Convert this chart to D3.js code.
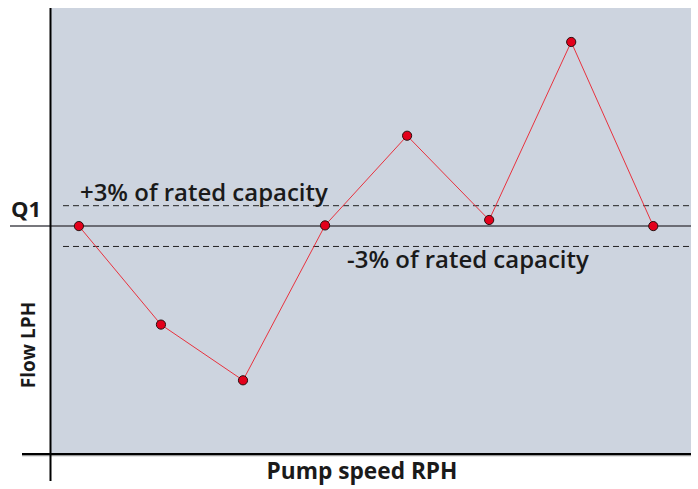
<!DOCTYPE html>
<html><head><meta charset="utf-8">
<script src="https://cdn.jsdelivr.net/npm/d3@7"></script>
<style>body{margin:0;background:#fff;} text{font-family:"Open Sans", Lato, sans-serif;}</style>
</head><body>
<svg id="c" width="698" height="489"></svg>
<script>
// Data
const speeds = [1, 2, 3, 4, 5, 6, 7, 8];
const flows = [100, 85.5, 77.3, 100.1, 113.3, 100.9, 127.1, 100];
const q1 = 100;
const bandPct = [3, -3];
const bandLabels = ["+3% of rated capacity", "-3% of rated capacity"];
const xTitle = "Pump speed RPH";
const yTitle = "Flow LPH";
const q1Label = "Q1";

const svg = d3.select("#c");
const pLeft = 51, pRight = 691, pTop = 8, pBottom = 454;

const x = d3.scaleLinear().domain([0.66, 8.46]).range([pLeft, pRight]);
const y = d3.scaleLinear().domain([66.6, 132.1]).range([pBottom - 1, pTop]);

function fit(t, w) {
  const s = +t.attr("font-size");
  const len = t.node().getComputedTextLength();
  t.attr("font-size", s * w / len);
  return s * w / len;
}

svg.append("rect").attr("x", pLeft).attr("y", pTop).attr("width", pRight - pLeft).attr("height", pBottom - pTop).attr("fill", "#cdd4df");

// band dashed lines
bandPct.forEach((p, i) => {
  const yy = y(q1 * (1 + p / 100));
  svg.append("line").attr("x1", 63).attr("x2", pRight).attr("y1", yy).attr("y2", yy)
    .attr("stroke", "#222").attr("stroke-width", 1).attr("stroke-dasharray", "6,4");
});
// Q1 line
svg.append("line").attr("x1", 10).attr("x2", pRight).attr("y1", y(q1)).attr("y2", y(q1))
  .attr("stroke", "#4a4a50").attr("stroke-width", 1.5);

// labels
const l1 = svg.append("text").attr("x", 80).attr("y", 201).attr("font-size", 20).attr("font-weight", 600)
  .attr("fill", "#1a1a1a").text(bandLabels[0]);
const fs = fit(l1, 248);
svg.append("text").attr("x", 347).attr("y", 268).attr("font-size", fs).attr("font-weight", 600)
  .attr("fill", "#1a1a1a").text(bandLabels[1]);
svg.append("text").attr("x", 11).attr("y", 217).attr("font-size", 22).attr("font-weight", 700)
  .attr("fill", "#1a1a1a").text(q1Label);

// data line
const line = d3.line().x((d, i) => x(speeds[i])).y(d => y(d));
svg.append("path").datum(flows).attr("d", line).attr("fill", "none").attr("stroke", "#e8323e").attr("stroke-width", 1);
svg.selectAll("circle.pt").data(flows).join("circle").attr("class", "pt")
  .attr("cx", (d, i) => x(speeds[i])).attr("cy", d => y(d)).attr("r", 4.6)
  .attr("fill", "#e3001b").attr("stroke", "#2a1010").attr("stroke-width", 1);

// axes
svg.append("line").attr("x1", 22).attr("x2", pRight).attr("y1", pBottom + 1).attr("y2", pBottom + 1).attr("stroke", "#999").attr("stroke-width", 2.5);
svg.append("line").attr("x1", 22).attr("x2", pRight).attr("y1", pBottom).attr("y2", pBottom).attr("stroke", "#000").attr("stroke-width", 2);
svg.append("line").attr("x1", 50.5).attr("x2", 50.5).attr("y1", pTop).attr("y2", 481).attr("stroke", "#000").attr("stroke-width", 2);

const xt = svg.append("text").attr("x", 362).attr("y", 479).attr("text-anchor", "middle").attr("font-size", 20).attr("font-weight", 700)
  .attr("fill", "#1a1a1a").text(xTitle);
fit(xt, 191);
svg.append("text").attr("transform", "translate(35,345) rotate(-90)").attr("text-anchor", "middle").attr("font-size", 19).attr("font-weight", 700)
  .attr("fill", "#1a1a1a").text(yTitle);
</script>
</body></html>
